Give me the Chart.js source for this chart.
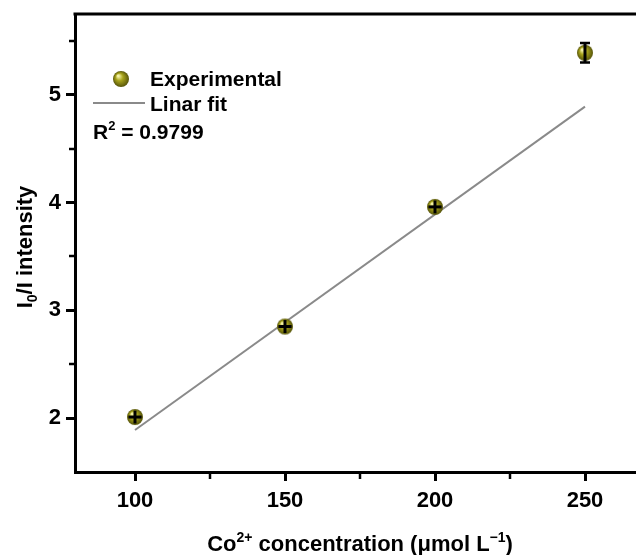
<!DOCTYPE html>
<html>
<head>
<meta charset="utf-8">
<script src="https://cdn.jsdelivr.net/npm/chart.js@4.4.1/dist/chart.umd.min.js"></script>
<style>
  html, body { margin: 0; padding: 0; background: #fff; }
  #wrap { width: 636px; height: 555px; }
</style>
</head>
<body>
<div id="wrap"><canvas id="chart" width="636" height="555"></canvas></div>
<script>
// Co2+ concentration (umol/L) and quenching ratio I0/I
const concX = [100, 150, 200, 250];
const intensity = [2.01, 2.85, 3.96, 5.39];
const errY = [0.06, 0.06, 0.06, 0.09];
const errX = [2.2, 2.2, 2.2, 0];

// linear fit line end points
const fitX = [100, 250];
const fitY = [1.89, 4.89];
const r2Text = '0.9799';

// axis ticks
const xTicks = [100, 150, 200, 250];
const xMinor = [125, 175, 225];
const yTicks = [2, 3, 4, 5];
const yMinor = [2.5, 3.5, 4.5, 5.5];

const FONT = "'Liberation Sans', Arial, sans-serif";

// shaded olive ball used for the points
function makeBall(r) {
    const c = document.createElement('canvas');
    c.width = c.height = r * 2 + 2;
    const g = c.getContext('2d');
    const cx = r + 1, cy = r + 1;
    const grad = g.createRadialGradient(cx - r * 0.35, cy - r * 0.4, r * 0.1, cx, cy, r);
    grad.addColorStop(0, '#f4f2a8');
    grad.addColorStop(0.4, '#a8a41c');
    grad.addColorStop(1, '#57550a');
    g.fillStyle = grad;
    g.beginPath();
    g.arc(cx, cy, r, 0, Math.PI * 2);
    g.fill();
    return c;
}
const ball = makeBall(8);

// text with sub / superscript pieces: [text, shift] shift 1 = sup, -1 = sub
function richWidth(ctx, parts, size) {
    let w = 0;
    parts.forEach(([t, s]) => {
        ctx.font = `bold ${s ? Math.round(size * 0.62) : size}px ${FONT}`;
        w += ctx.measureText(t).width;
    });
    return w;
}
function drawRich(ctx, parts, x, y, size) {
    ctx.textBaseline = 'alphabetic';
    ctx.textAlign = 'left';
    parts.forEach(([t, s]) => {
        ctx.font = `bold ${s ? Math.round(size * 0.62) : size}px ${FONT}`;
        const dy = s > 0 ? -size * 0.42 : (s < 0 ? size * 0.22 : 0);
        ctx.fillText(t, x, y + dy);
        x += ctx.measureText(t).width;
    });
}

// no extra room for edge labels
function noPad(s) {
    s.paddingLeft = 0;
    s.paddingRight = 0;
    s.paddingTop = 0;
    s.paddingBottom = 0;
}

const decorations = {
    id: 'decorations',
    beforeDatasetsDraw(chart) {
        const { ctx, chartArea, scales } = chart;
        ctx.save();
        ctx.strokeStyle = '#000';
        // top frame line
        ctx.lineWidth = 3;
        ctx.beginPath();
        ctx.moveTo(chartArea.left - 1.5, chartArea.top);
        ctx.lineTo(chartArea.right, chartArea.top);
        ctx.stroke();
        // minor ticks
        ctx.lineWidth = 2.5;
        xMinor.forEach(v => {
            const px = Math.round(scales.x.getPixelForValue(v));
            ctx.beginPath();
            ctx.moveTo(px, chartArea.bottom);
            ctx.lineTo(px, chartArea.bottom + 7);
            ctx.stroke();
        });
        yMinor.forEach(v => {
            const py = Math.round(scales.y.getPixelForValue(v));
            ctx.beginPath();
            ctx.moveTo(chartArea.left, py);
            ctx.lineTo(chartArea.left - 6, py);
            ctx.stroke();
        });
        ctx.restore();
    },
    afterDatasetsDraw(chart) {
        const { ctx, scales } = chart;
        ctx.save();
        ctx.strokeStyle = '#000';
        // error bars
        concX.forEach((xv, i) => {
            const px = scales.x.getPixelForValue(xv);
            const py = scales.y.getPixelForValue(intensity[i]);
            const top = scales.y.getPixelForValue(intensity[i] + errY[i]);
            const bot = scales.y.getPixelForValue(intensity[i] - errY[i]);
            ctx.lineWidth = 3;
            ctx.beginPath();
            ctx.moveTo(px, top);
            ctx.lineTo(px, bot);
            ctx.stroke();
            if (py - top > 8) {
                ctx.lineWidth = 2.5;
                ctx.beginPath();
                ctx.moveTo(px - 5, top); ctx.lineTo(px + 5, top);
                ctx.moveTo(px - 5, bot); ctx.lineTo(px + 5, bot);
                ctx.stroke();
            }
            if (errX[i] > 0) {
                const l = scales.x.getPixelForValue(xv - errX[i]);
                const r = scales.x.getPixelForValue(xv + errX[i]);
                ctx.lineWidth = 3;
                ctx.beginPath();
                ctx.moveTo(l, py); ctx.lineTo(r, py);
                ctx.stroke();
            }
        });
        ctx.restore();
    },
    afterDraw(chart) {
        const { ctx } = chart;
        ctx.save();
        ctx.fillStyle = '#000';

        // legend
        ctx.drawImage(ball, 121 - ball.width / 2, 79 - ball.height / 2);
        ctx.strokeStyle = '#8a8a8a';
        ctx.lineWidth = 2;
        ctx.beginPath();
        ctx.moveTo(93, 103);
        ctx.lineTo(145, 103);
        ctx.stroke();
        ctx.font = `bold 21px ${FONT}`;
        ctx.textBaseline = 'middle';
        ctx.textAlign = 'left';
        ctx.fillText('Experimental', 150, 80);
        ctx.fillText('Linar fit', 150, 105);
        drawRich(ctx, [['R', 0], ['2', 1], [' = ' + r2Text, 0]], 93, 139, 21);

        // x axis title
        const xt = [['Co', 0], ['2+', 1], [' concentration (μmol L', 0], ['−1', 1], [')', 0]];
        const xw = richWidth(ctx, xt, 22);
        drawRich(ctx, xt, 360 - xw / 2, 551, 22);

        // y axis title
        const yt = [['I', 0], ['0', -1], ['/I intensity', 0]];
        const yw = richWidth(ctx, yt, 22);
        ctx.translate(32, 247);
        ctx.rotate(-Math.PI / 2);
        drawRich(ctx, yt, -yw / 2, 0, 22);
        ctx.restore();
    }
};

new Chart(document.getElementById('chart'), {
    type: 'scatter',
    data: {
        datasets: [
            {
                label: 'Experimental',
                data: concX.map((x, i) => ({ x, y: intensity[i] })),
                pointStyle: ball,
                pointRadius: 8,
                order: 0
            },
            {
                label: 'Linar fit',
                type: 'line',
                data: fitX.map((x, i) => ({ x, y: fitY[i] })),
                borderColor: '#8a8a8a',
                borderWidth: 2,
                pointRadius: 0,
                fill: false,
                order: 1
            }
        ]
    },
    options: {
        responsive: false,
        animation: false,
        layout: { autoPadding: false, padding: { top: 14, right: 0, left: 0, bottom: 0 } },
        plugins: {
            legend: { display: false },
            tooltip: { enabled: false }
        },
        scales: {
            x: {
                type: 'linear',
                min: 80,
                max: 267,
                afterBuildTicks: s => { s.ticks = xTicks.map(v => ({ value: v })); },
                afterFit: s => { s.height = 83; noPad(s); },
                grid: { drawOnChartArea: false, drawTicks: true, tickLength: 9, tickWidth: 3, tickColor: '#000' },
                border: { color: '#000', width: 3 },
                ticks: { color: '#000', font: { family: FONT, size: 22, weight: 'bold' }, padding: 7, maxRotation: 0 }
            },
            y: {
                min: 1.5,
                max: 5.75,
                afterBuildTicks: s => { s.ticks = yTicks.map(v => ({ value: v })); },
                afterFit: s => { s.width = 75; noPad(s); },
                grid: { drawOnChartArea: false, drawTicks: true, tickLength: 9, tickWidth: 3, tickColor: '#000' },
                border: { color: '#000', width: 3 },
                ticks: { color: '#000', font: { family: FONT, size: 22, weight: 'bold' }, padding: 5 }
            }
        }
    },
    plugins: [decorations]
});
</script>
</body>
</html>
